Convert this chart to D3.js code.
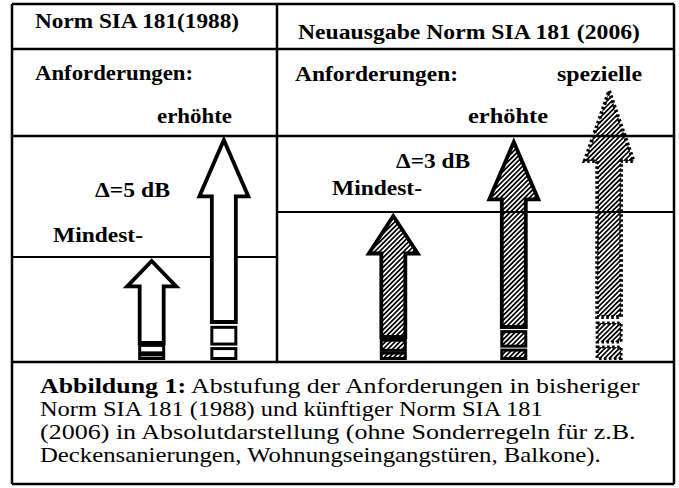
<!DOCTYPE html>
<html>
<head>
<meta charset="utf-8">
<script src="https://cdn.jsdelivr.net/npm/d3@7"></script>
<style>
  body { margin: 0; background: #fff; }
  svg { display: block; }
  text { fill: #000; }
</style>
</head>
<body>
<svg id="chart"></svg>
<script>
/** * * * * DATA * * * * */
const panelTitles = ['Norm SIA 181(1988)', 'Neuausgabe Norm SIA 181 (2006)'];
const rowLabel = 'Anforderungen:';
const arrowLabels = ['Mindest-', 'erhöhte', 'Mindest-', 'erhöhte', 'spezielle'];
const arrowPanel = [0, 0, 1, 1, 1];
const arrowPos = [21.1, 32.0, 57.6, 75.8, 90.2];      // horizontal position (0-100 of frame)
const arrowTip = [102, 223, 147, 221, 272];           // level reached by the arrow
const arrowTail = [17, 38, 23, 33, 43];               // level where the shaft ends
const levelLines = [103, 148];                        // "Mindest" level per panel
const deltaLabels = ['Δ=5 dB', 'Δ=3 dB'];
const captionBold = 'Abbildung 1:';
const captionLines = [
  ' Abstufung der Anforderungen in bisheriger',
  'Norm SIA 181 (1988) und künftiger Norm SIA 181',
  '(2006) in Absolutdarstellung (ohne Sonderregeln für z.B.',
  'Deckensanierungen, Wohnungseingangstüren, Balkone).'
];

/** * * * * LAYOUT * * * * */
const width = 679;
const height = 488;
const frame = {left: 12, right: 674, top: 4, bottom: 484, split: 277, title: 49, header: 136, base: 362};

// pick a Times-like face if the machine has one
function pickFont() {
  let ctx = document.createElement('canvas').getContext('2d');
  let probe = 'Abstufung der Anforderungen WMil 1988';
  let names = ['Liberation Serif', 'Times New Roman', 'Tinos', 'Nimbus Roman', 'Nimbus Roman No9 L',
    'FreeSerif', 'Noto Serif', 'DejaVu Serif Condensed'];
  for (let base of ['monospace', 'sans-serif']) {
    ctx.font = '40px ' + base;
    var ref = ctx.measureText(probe).width;
  }
  for (let n of names) {
    let ok = true;
    for (let base of ['monospace', 'sans-serif']) {
      ctx.font = '40px ' + base;
      let w0 = ctx.measureText(probe).width;
      ctx.font = `40px "${n}", ${base}`;
      if (ctx.measureText(probe).width === w0) ok = false;
    }
    if (ok) return `"${n}", serif`;
  }
  return 'serif';
}
const fontFamily = pickFont();

const svg = d3.select('#chart')
  .attr('width', width)
  .attr('height', height)
  .style('font-family', fontFamily);

const x = d3.scaleLinear().domain([0, 100]).range([frame.left, frame.right]);
const y = d3.scaleLinear().domain([0, 272]).range([360, 88]);

// hatch pattern
const defs = svg.append('defs');
defs.append('pattern')
  .attr('id', 'hatch')
  .attr('patternUnits', 'userSpaceOnUse')
  .attr('width', 3.4)
  .attr('height', 3.4)
  .attr('patternTransform', 'rotate(45)')
  .append('rect')
  .attr('width', 1.7)
  .attr('height', 3.4)
  .attr('fill', '#000');

// frame / table lines
const lines = [
  [frame.left, frame.top, frame.right, frame.top],
  [frame.left, frame.bottom, frame.right, frame.bottom],
  [frame.left, frame.top, frame.left, frame.bottom],
  [frame.right, frame.top, frame.right, frame.bottom],
  [frame.split, frame.top, frame.split, frame.base],
  [frame.left, frame.title, frame.right, frame.title],
  [frame.left, frame.header, frame.right, frame.header],
  [frame.left, frame.base, frame.right, frame.base]
];
svg.append('g').selectAll('line')
  .data(lines)
  .enter()
  .append('line')
  .attr('x1', d => d[0]).attr('y1', d => d[1])
  .attr('x2', d => d[2]).attr('y2', d => d[3])
  .attr('stroke', '#000')
  .attr('stroke-width', 2.5);

// Mindest level lines
svg.append('g').selectAll('line')
  .data(levelLines)
  .enter()
  .append('line')
  .attr('x1', (d, i) => i === 0 ? frame.left : frame.split)
  .attr('x2', (d, i) => i === 0 ? frame.split : frame.right)
  .attr('y1', d => y(d))
  .attr('y2', d => y(d))
  .attr('stroke', '#000')
  .attr('stroke-width', 2);

// text helper: squeeze/stretch to the width it has in the picture
function label(txt, tx, ty, w, size, bold) {
  let t = svg.append('text')
    .attr('x', tx)
    .attr('y', ty)
    .style('font-size', size + 'px')
    .style('font-weight', bold ? 'bold' : 'normal')
    .text(txt);
  if (w) {
    t.attr('textLength', w).attr('lengthAdjust', 'spacingAndGlyphs');
  }
  return t;
}

label(panelTitles[0], 35, 28, 204, 20, true);
label(panelTitles[1], 298, 39, 342, 20, true);
label(rowLabel, 35, 80, 158, 20, true);
label(rowLabel, 295, 81, 163, 20, true);
label(arrowLabels[4], 557, 81, 85, 20, true);
label(arrowLabels[1], 157, 123, 75, 20, true);
label(arrowLabels[3], 468, 123, 80, 20, true);
label(deltaLabels[0], 95, 197, 75, 21, true);
label(arrowLabels[0], 53, 242, 90, 21, true);
label(deltaLabels[1], 396, 168, 74, 21, true);
label(arrowLabels[2], 332, 195, 90, 21, true);

// arrows
const headW = 24.5, shaftW = 12;
function arrowPath(i) {
  let cx = x(arrowPos[i]);
  let top = y(arrowTip[i]) + 3;
  let bot = y(arrowTail[i]);
  let head = 0.31 * (bot - top);
  return d3.line()([
    [cx, top], [cx + headW, top + head], [cx + shaftW, top + head],
    [cx + shaftW, bot], [cx - shaftW, bot], [cx - shaftW, top + head],
    [cx - headW, top + head]
  ]) + 'Z';
}

const arrows = svg.append('g');
arrowPos.forEach(function(p, i) {
  let fill = arrowPanel[i] === 0 ? '#fff' : 'url(#hatch)';
  let dash = i === 4 ? '2.5,2.5' : null;
  arrows.append('path')
    .attr('d', arrowPath(i))
    .attr('fill', fill)
    .attr('stroke', '#000')
    .attr('stroke-width', 3.8)
    .attr('stroke-miterlimit', 6)
    .attr('stroke-dasharray', dash);

  // broken tail below the shaft
  let cx = x(p);
  let bot = y(arrowTail[i]);
  let T = y(0) - bot;
  let blocks = [[bot + 0.14 * T, bot + 0.58 * T], [bot + 0.7 * T, y(0) - 1.5]];
  blocks.forEach(function(b) {
    arrows.append('rect')
      .attr('x', cx - shaftW)
      .attr('y', b[0])
      .attr('width', shaftW * 2)
      .attr('height', Math.max(b[1] - b[0], 1))
      .attr('fill', fill)
      .attr('stroke', '#000')
      .attr('stroke-width', 3)
      .attr('stroke-dasharray', dash);
  });
});

// caption
const capX = 40;
const capY = [393, 416, 439, 462];
const capW = [600, 503, 596, 561];
captionLines.forEach(function(line, i) {
  let t = svg.append('text')
    .attr('x', capX)
    .attr('y', capY[i])
    .style('font-size', '21px');
  if (i === 0) {
    t.append('tspan').style('font-weight', 'bold').text(captionBold);
  }
  t.append('tspan').text(line);
  let w = t.node().getComputedTextLength();
  let s = capW[i] / w;
  t.attr('transform', `translate(${capX},0) scale(${s},1) translate(${-capX},0)`);
});
</script>
</body>
</html>
